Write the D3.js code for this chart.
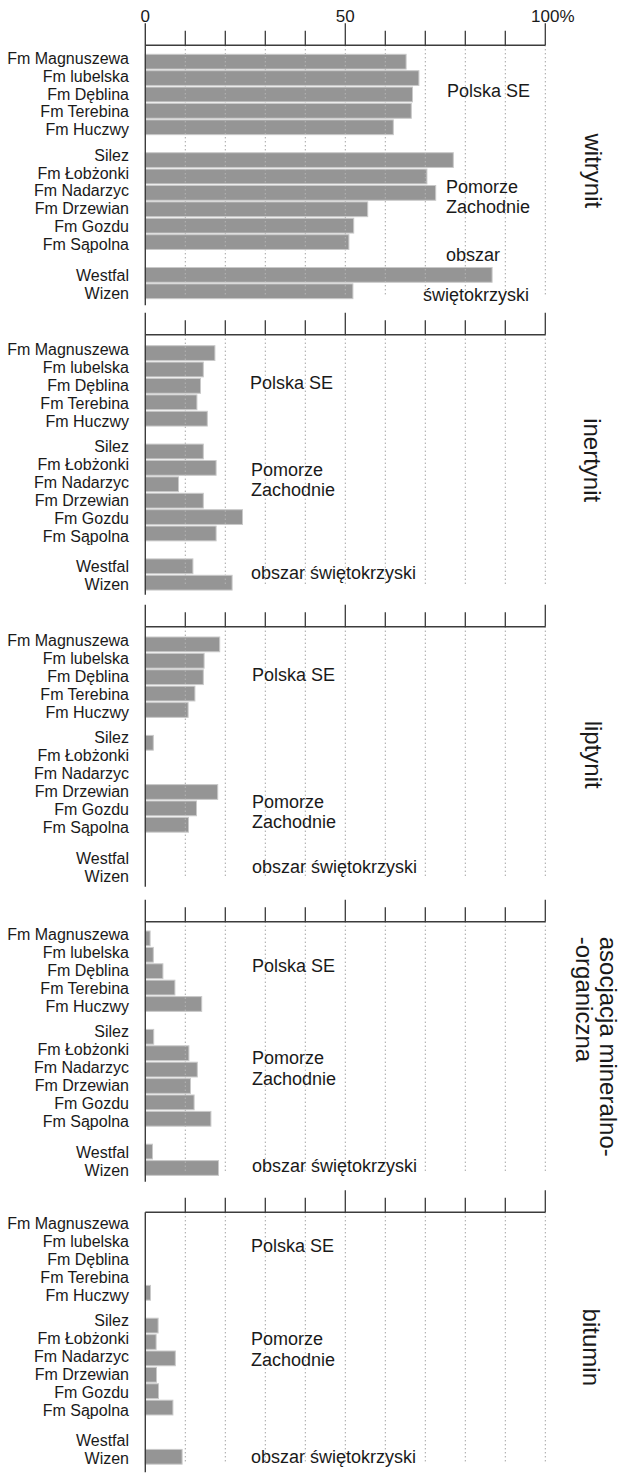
<!DOCTYPE html>
<html>
<head>
<meta charset="utf-8">
<script src="https://cdn.jsdelivr.net/npm/d3@7"></script>
<style>
  html, body { margin: 0; padding: 0; background: #fff; }
  svg { display: block; font-family: "Liberation Sans", Arial, sans-serif; }
</style>
</head>
<body>
<svg id="chart" width="623" height="1476"></svg>
<script>
// Formations / stratigraphic units, top to bottom
const categories = ["Fm Magnuszewa", "Fm lubelska", "Fm Dęblina", "Fm Terebina", "Fm Huczwy",
  "Silez", "Fm Łobżonki", "Fm Nadarzyc", "Fm Drzewian", "Fm Gozdu", "Fm Sąpolna",
  "Westfal", "Wizen"];
// region index of each unit
const categoryRegion = [0, 0, 0, 0, 0, 1, 1, 1, 1, 1, 1, 2, 2];
const regions = ["Polska SE", "Pomorze Zachodnie", "obszar świętokrzyski"];

// Maceral group names (one panel each)
const macerals = ["witrynit", "inertynit", "liptynit", "asocjacja mineralno- -organiczna", "bitumin"];

// Percent content, in category order
const witrynit   = [65.2, 68.4, 66.8, 66.5, 62.0, 77.0, 70.4, 72.6, 55.6, 52.1, 50.9, 86.7, 51.9];
const inertynit  = [17.4, 14.5, 13.8, 12.9, 15.5, 14.5, 17.7, 8.3, 14.5, 24.3, 17.7, 11.9, 21.7];
const liptynit   = [18.6, 14.7, 14.5, 12.4, 10.7, 2.0, 0, 0, 18.1, 12.8, 10.8, 0, 0];
const asocjacja  = [1.2, 2.0, 4.4, 7.4, 14.1, 2.1, 10.9, 13.0, 11.3, 12.2, 16.4, 1.8, 18.3];
const bitumin    = [0, 0, 0, 0, 1.3, 3.2, 2.7, 7.5, 2.8, 3.3, 6.9, 0, 9.2];
const series = [witrynit, inertynit, liptynit, asocjacja, bitumin];

// Axis ticks
const tickValues = [0, 10, 20, 30, 40, 50, 60, 70, 80, 90, 100];
const majorTicks = [0, 50, 100];
const tickLabels = [["0", 0], ["50", 50], ["100%", 100]];

// ---- layout ----
const svg = d3.select("#chart");
const x = d3.scaleLinear().domain([0, 100]).range([145.3, 545.3]);

const panelAxisY = [45.3, 334.7, 626.7, 921.7, 1212.3];
const panelShift = [-0.5, 1.5, 0.8, -0.2, -2.0];
const step = 16.4;
const labelStep = 17.9;
const labelGroupStart = [13.3, 110.2, 230.5];

// slots for bars: units with an empty slot between regions
const slots = [];
categories.forEach((c, i) => {
  if (i > 0 && categoryRegion[i] !== categoryRegion[i - 1]) slots.push("gap" + i);
  slots.push(c);
});

// region label placement (x, rel. y per line)
const regionLayout = [
  [{ x: [447], y: [45.4] }, { x: [446, 446], y: [141.4, 161.4] }, { x: [446, 423], y: [209.7, 249.7] }],
  [{ x: [250], y: [48.3] }, { x: [251, 251], y: [135, 155] }, { x: [251], y: [238.3] }],
  [{ x: [252], y: [48] }, { x: [252, 252], y: [174.7, 194.7] }, { x: [252], y: [239.7] }],
  [{ x: [252], y: [44] }, { x: [252, 252], y: [136.3, 157.3] }, { x: [252], y: [244] }],
  [{ x: [251], y: [33.7] }, { x: [251, 251], y: [126.3, 147.3] }, { x: [251], y: [244] }]
];
// side title placement: baseline x of first line, y (rel), anchor
const titleLayout = [
  { x: 585, y: 125.5, anchor: "middle" },
  { x: 584, y: 125.5, anchor: "middle" },
  { x: 585, y: 128, anchor: "middle" },
  { x: 600, y: 15, anchor: "start" },
  { x: 583, y: 135, anchor: "middle" }
];

const axisColor = "#3c3c3c";
const barFill = "#959595";
const barEdge = "#c9c9c9";

series.forEach((values, p) => {
  const y0 = panelAxisY[p];
  const shift = panelShift[p];
  const g = svg.append("g").attr("class", "panel");

  const barTop = y0 + 9.5 + shift;
  const yBand = d3.scaleBand()
    .domain(slots)
    .range([barTop - step * 0.05, barTop - step * 0.05 + step * slots.length])
    .paddingInner(0.1)
    .paddingOuter(0.05);

  const gridBottom = y0 + 250;
  const gridVals = tickValues.filter(v => v > 0);

  // dotted grid, under bars
  g.append("g").selectAll("line").data(gridVals).join("line")
    .attr("x1", d => x(d)).attr("x2", d => x(d))
    .attr("y1", y0).attr("y2", gridBottom)
    .attr("stroke", "#7a7a7a").attr("stroke-width", 1)
    .attr("stroke-dasharray", "1,3");

  const data = categories.map((c, i) => ({ c, v: values[i] })).filter(d => d.v > 0);

  // bars
  g.append("g").selectAll("rect").data(data).join("rect")
    .attr("x", x(0))
    .attr("y", d => yBand(d.c))
    .attr("width", d => x(d.v) - x(0))
    .attr("height", yBand.bandwidth())
    .attr("fill", barFill)
    .attr("stroke", barEdge)
    .attr("stroke-width", 1);

  // light grid dots showing on top of bars
  const clipId = "barclip" + p;
  svg.append("defs").append("clipPath").attr("id", clipId)
    .selectAll("rect").data(data).join("rect")
    .attr("x", x(0)).attr("y", d => yBand(d.c))
    .attr("width", d => x(d.v) - x(0)).attr("height", yBand.bandwidth());
  g.append("g").attr("clip-path", `url(#${clipId})`)
    .selectAll("line").data(gridVals).join("line")
    .attr("x1", d => x(d)).attr("x2", d => x(d))
    .attr("y1", y0).attr("y2", gridBottom)
    .attr("stroke", "#c4c4c4").attr("stroke-width", 1)
    .attr("stroke-dasharray", "1,3");

  // top axis: baseline and ticks
  g.append("line")
    .attr("x1", x(0)).attr("x2", x(100))
    .attr("y1", y0).attr("y2", y0)
    .attr("stroke", axisColor).attr("stroke-width", 1.4);
  g.append("g").selectAll("line")
    .data(tickValues.filter(v => v > 0))
    .join("line")
    .attr("x1", d => x(d)).attr("x2", d => x(d))
    .attr("y1", d => y0 - (majorTicks.includes(d) ? 22 : 14.5))
    .attr("y2", y0)
    .attr("stroke", axisColor).attr("stroke-width", 1.3);

  // zero line
  g.append("line")
    .attr("x1", x(0)).attr("x2", x(0))
    .attr("y1", p === 4 ? y0 : y0 - 22)
    .attr("y2", y0 + 260)
    .attr("stroke", axisColor).attr("stroke-width", 1.4);

  // unit labels
  const regionIndexInGroup = categories.map((c, i) =>
    i - categoryRegion.indexOf(categoryRegion[i]));
  g.append("g").selectAll("text").data(categories).join("text")
    .attr("x", 129)
    .attr("y", (c, i) => y0 + shift + labelGroupStart[categoryRegion[i]] + labelStep * regionIndexInGroup[i])
    .attr("dy", "0.35em")
    .attr("text-anchor", "end")
    .attr("font-size", 16)
    .attr("fill", "#1a1a1a")
    .text(c => c);

  // region labels
  regions.forEach((name, r) => {
    const lay = regionLayout[p][r];
    const lines = lay.y.length > 1
      ? [name.slice(0, name.indexOf(" ")), name.slice(name.indexOf(" ") + 1)]
      : [name];
    lines.forEach((line, k) => {
      g.append("text")
        .attr("x", lay.x[k])
        .attr("y", y0 + lay.y[k])
        .attr("dy", "0.35em")
        .attr("font-size", 18)
        .attr("fill", "#1a1a1a")
        .text(line);
    });
  });

  // side title (rotated, reads top to bottom); "- -" marks a hyphenated line break
  const tl = titleLayout[p];
  const parts = macerals[p].includes("- -")
    ? [macerals[p].slice(0, macerals[p].indexOf("- -") + 1), macerals[p].slice(macerals[p].indexOf("- -") + 2)]
    : [macerals[p]];
  const title = g.append("text")
    .attr("transform", `translate(${tl.x},${y0 + tl.y}) rotate(90)`)
    .attr("text-anchor", tl.anchor)
    .attr("font-size", 24)
    .attr("fill", "#1a1a1a");
  parts.forEach((line, k) => {
    title.append("tspan").attr("x", 0).attr("dy", k === 0 ? 0 : "1em").text(line);
  });

  // tick labels on the first panel only
  if (p === 0) {
    tickLabels.forEach(([txt, v]) => {
      const t = g.append("text")
        .attr("y", 21.7)
        .attr("font-size", 17)
        .attr("fill", "#1a1a1a")
        .text(txt);
      // centre the numeric part on the tick; a trailing "%" hangs to the right
      const digits = txt.replace("%", "").length;
      const w = t.node().getSubStringLength(0, digits);
      t.attr("x", x(v) - w / 2);
    });
  }
});
</script>
</body>
</html>
